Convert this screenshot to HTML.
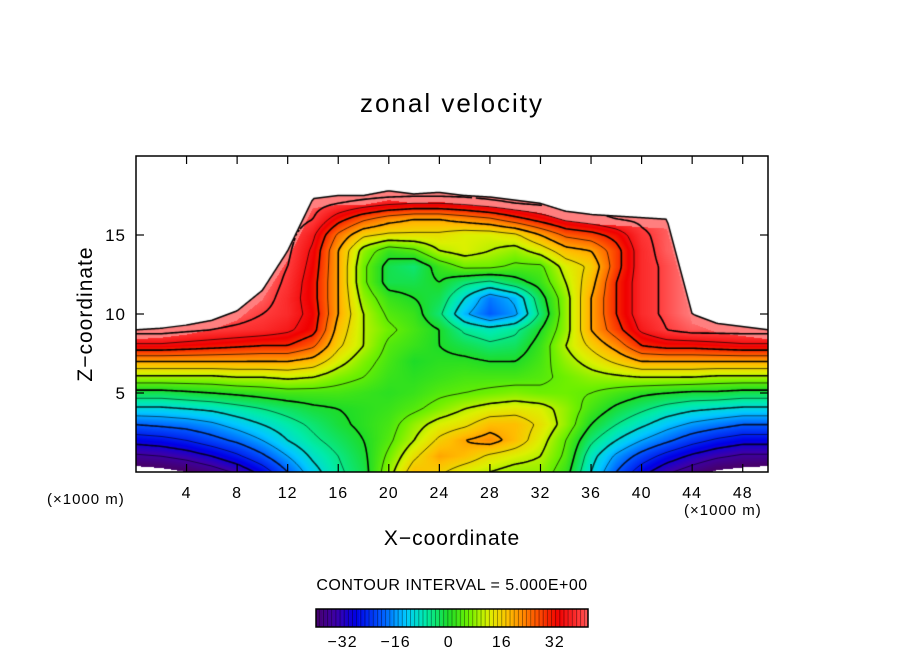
<!DOCTYPE html>
<html><head><meta charset="utf-8"><style>
body{margin:0;background:#fff;}
#wrap{position:relative;width:904px;height:654px;font-family:"Liberation Sans","DejaVu Sans",sans-serif;color:#000;}
.t{position:absolute;white-space:nowrap;}
</style></head><body>
<div id="wrap">
<div class="t" style="left:0;width:904px;text-align:center;top:88px;font-size:26px;letter-spacing:2px;">zonal velocity</div>
<div class="t" style="left:86px;top:314px;font-size:21px;letter-spacing:1px;transform:translate(-50%,-50%) rotate(-90deg);">Z−coordinate</div>
<div class="t" style="left:0;width:904px;text-align:center;top:527px;font-size:21px;letter-spacing:1px;">X−coordinate</div>
<div class="t" style="left:47px;top:491px;font-size:15px;letter-spacing:1px;">(×1000 m)</div>
<div class="t" style="left:684px;top:502px;font-size:15px;letter-spacing:1px;">(×1000 m)</div>
<div class="t" style="left:0;width:904px;text-align:center;top:577px;font-size:16px;letter-spacing:0.5px;">CONTOUR INTERVAL = 5.000E+00</div>
<canvas id="plot" width="632" height="316" style="position:absolute;left:136px;top:156px;"></canvas>
<svg id="ax" width="904" height="654" style="position:absolute;left:0;top:0;"></svg>
</div>
<script>
const xCoords=[0,2,4,6,8,10,12,14,16,18,20,22,24,26,28,30,32,34,36,38,40,42,44,46,48,50];
const zCoords=[0,1,2,3,4,5,6,7,8,9,10,11,12,13,14,15,16,17,18];
const tops=[9,9.1,9.3,9.6,10.2,11.5,14,17.3,17.5,17.5,17.8,17.6,17.7,17.5,17.4,17.2,17,16.5,16.3,16.2,16.1,16,10,9.4,9.2,9];
const field=[
[-44,-43,-41,-38,-34,-28,-20,-12,-6,-2,8,18,16,12,10,8,8,2,-10,-20,-28,-34,-38,-42,-43,-44],
[-36,-35,-33,-30,-26,-21,-15,-9,-5,-1,6,14,20,18,14,12,10,4,-8,-16,-22,-27,-31,-34,-36,-36],
[-28,-27,-25,-22,-19,-15,-10,-6,-3,0,4,10,16,20,22,18,12,5,-4,-10,-15,-19,-23,-26,-28,-28],
[-20,-19,-18,-16,-13,-10,-7,-4,-1,1,3,8,12,14,18,18,14,8,0,-5,-9,-13,-16,-18,-20,-20],
[-11,-11,-10,-9,-7,-5,-3,-1,0,1,2,4,7,10,12,13,12,8,3,-1,-4,-7,-9,-10,-11,-11],
[-2,-2,-1,0,1,2,3,3,3,2,1,2,4,5,6,7,6,6,5,3,1,0,-1,-1,-2,-2],
[9,9,9,9,10,10,11,10,7,5,2,1,2,3,3,3,4,6,8,9,10,10,10,9,9,9],
[20,20,20,20,20,20,20,18,12,7,3,0,1,1,0,0,3,8,12,16,20,20,20,20,20,20],
[34,34,33,32,31,30,30,26,16,10,4,2,0,-2,-4,-3,2,10,16,22,30,32,32,33,34,34],
[42,42,41,40,39,38,36,32,18,10,6,3,0,-6,-8,-6,0,8,20,28,36,40,42,42,42,42],
[44,44,44,43,42,40,38,33,20,10,4,2,-4,-14,-20,-16,-4,8,20,30,38,41,44,44,44,44],
[44,44,44,44,43,42,38,32,20,8,2,0,-2,-10,-18,-14,-2,8,20,30,38,41,44,44,44,44],
[44,44,44,44,44,43,39,32,20,6,-2,-2,0,-4,-6,-2,2,10,18,30,38,41,44,44,44,44],
[44,44,44,44,44,43,40,33,20,6,-2,-4,2,6,6,4,4,12,16,28,38,41,44,44,44,44],
[44,44,44,44,44,44,41,34,20,8,2,4,10,12,10,8,12,18,20,28,38,42,44,44,44,44],
[44,44,44,44,44,44,42,36,24,16,14,14,14,12,12,14,20,26,28,32,39,42,44,44,44,44],
[44,44,44,44,44,44,43,40,32,26,22,20,20,22,24,28,32,36,38,40,41,42,44,44,44,44],
[44,44,44,44,44,44,44,42,40,38,36,35,35,36,38,40,41,42,43,43,43,43,44,44,44,44],
[46,46,46,46,46,46,46,46,46,46,46,46,46,46,46,46,46,46,46,46,46,46,46,46,46,46]
];
const xTicks=[4,8,12,16,20,24,28,32,36,40,44,48];
const zTicks=[5,10,15];
const cbTicks=[-32,-16,0,16,32];
const X0=136,Y0=156,W=632,H=316,XMAX=50,ZMAX=20;
function sx(x){return X0+x/XMAX*W;}
function sz(z){return Y0+H-z/ZMAX*H;}
const stops=[[-40,[70,0,110]],[-34,[60,0,170]],[-28,[0,0,230]],[-20,[0,90,255]],[-13,[0,200,255]],[-7,[0,235,170]],[0,[30,220,40]],[6,[110,240,0]],[12,[220,240,0]],[18,[255,190,0]],[26,[255,90,0]],[33,[240,0,0]],[40,[255,60,60]],[46,[255,160,160]]];
function cmap(v){
 if(v<-41) return [255,255,255];
 if(v<=stops[0][0]) return stops[0][1];
 for(let i=1;i<stops.length;i++){if(v<=stops[i][0]){const a=stops[i-1],b=stops[i],t=(v-a[0])/(b[0]-a[0]);return a[1].map((c,k)=>Math.round(c+(b[1][k]-c)*t));}}
 return stops[stops.length-1][1];
}
function val(x,z){
 let fi=x/2, fj=z; let i=Math.min(Math.floor(fi),xCoords.length-2), j=Math.min(Math.floor(fj),zCoords.length-2);
 const tx=fi-i,tz=fj-j;
 const a=field[j][i],b=field[j][i+1],c=field[j+1][i],d=field[j+1][i+1];
 return (a*(1-tx)+b*tx)*(1-tz)+(c*(1-tx)+d*tx)*tz;
}
function topAt(x){let fi=x/2;let i=Math.min(Math.floor(fi),tops.length-2);const t=fi-i;return tops[i]*(1-t)+tops[i+1]*t;}
const cv=document.getElementById('plot'),ctx=cv.getContext('2d');
const img=ctx.createImageData(W,H);
for(let py=0;py<H;py++){for(let px=0;px<W;px++){
 const x=(px+0.5)/W*XMAX,z=(H-py-0.5)/H*ZMAX;const o=(py*W+px)*4;
 const tp=topAt(x);
 if(z>tp){img.data[o]=255;img.data[o+1]=255;img.data[o+2]=255;img.data[o+3]=255;continue;}
 let v=val(x,z); if(tp-z<0.6) v=Math.max(v,44);
 const c=cmap(v);img.data[o]=c[0];img.data[o+1]=c[1];img.data[o+2]=c[2];img.data[o+3]=255;
}}
ctx.putImageData(img,0,0);
const S=2,NX=W/S+1,NY=H/S+1;const G=[],M=[];
for(let j=0;j<NY;j++){G.push([]);M.push([]);for(let i=0;i<NX;i++){const x=i*S/W*XMAX,z=(H-j*S)/H*ZMAX;G[j].push(val(Math.min(x,50),Math.min(z,18)));M[j].push(z<=topAt(Math.min(x,50)));}}
for(let lev=-35;lev<=40;lev+=5){
 ctx.beginPath();
 for(let j=0;j<NY-1;j++)for(let i=0;i<NX-1;i++){
  if(!(M[j][i]&&M[j][i+1]&&M[j+1][i]&&M[j+1][i+1]))continue;
  const v=[G[j][i],G[j][i+1],G[j+1][i+1],G[j+1][i]];
  const p=[[i,j],[i+1,j],[i+1,j+1],[i,j+1]];const pts=[];
  for(let k=0;k<4;k++){const a=v[k],b=v[(k+1)%4];if((a<lev)!==(b<lev)){const t=(lev-a)/(b-a);const A=p[k],B=p[(k+1)%4];pts.push([(A[0]+(B[0]-A[0])*t)*S,(A[1]+(B[1]-A[1])*t)*S]);}}
  if(pts.length>=2){ctx.moveTo(pts[0][0],pts[0][1]);ctx.lineTo(pts[1][0],pts[1][1]);}
  if(pts.length===4){ctx.moveTo(pts[2][0],pts[2][1]);ctx.lineTo(pts[3][0],pts[3][1]);}
 }
 ctx.strokeStyle=lev<0?'rgba(0,0,0,0.8)':'#000';
 ctx.lineWidth=(lev%10===0)?1.6:0.7;
 ctx.stroke();
}
ctx.beginPath();
for(let px=0;px<=W;px+=2){const x=px/W*XMAX;const y=H-topAt(Math.min(x,50))/ZMAX*H;if(px===0)ctx.moveTo(px,y);else ctx.lineTo(px,y);}
ctx.strokeStyle='#000';ctx.lineWidth=1.5;ctx.stroke();
const NS='http://www.w3.org/2000/svg',svg=document.getElementById('ax');
function mk(tag,attrs,name){const e=document.createElementNS(NS,tag);for(const k in attrs)e.setAttribute(k,attrs[k]);


svg.appendChild(e);return e;}
mk('rect',{x:X0,y:Y0,width:W,height:H,fill:'none',stroke:'#000','stroke-width':1.5},'plot-frame');
xTicks.forEach(t=>{const x=sx(t);
 mk('line',{x1:x,x2:x,y1:Y0+H,y2:Y0+H-8,stroke:'#000','stroke-width':1.2},'x-tick');
 mk('line',{x1:x,x2:x,y1:Y0,y2:Y0+8,stroke:'#000','stroke-width':1.2},'x-tick-top');
 const tx=mk('text',{x:x,y:498,'text-anchor':'middle','font-size':16,'letter-spacing':1,'font-family':'Liberation Sans, sans-serif'},'x-tick-label');tx.textContent=t;});
zTicks.forEach(t=>{const y=sz(t);
 mk('line',{x1:X0,x2:X0+8,y1:y,y2:y,stroke:'#000','stroke-width':1.2},'z-tick');
 mk('line',{x1:X0+W,x2:X0+W-8,y1:y,y2:y,stroke:'#000','stroke-width':1.2},'z-tick-right');
 const tx=mk('text',{x:126,y:y+6,'text-anchor':'end','font-size':17,'letter-spacing':1,'font-family':'Liberation Sans, sans-serif'},'z-tick-label');tx.textContent=t;});
const CB0=316,CB1=588,CBV0=-40,CBV1=42;
function cbx(v){return CB0+(v-CBV0)/(CBV1-CBV0)*(CB1-CB0);}
for(let v=CBV0;v<CBV1;v+=1){mk('rect',{x:cbx(v),y:609,width:cbx(v+1)-cbx(v)+0.3,height:18,fill:'rgb('+cmap(v+0.5).join(',')+')'},'colorbar-swatch');}
for(let v=CBV0+1;v<CBV1;v+=1.25){mk('line',{x1:cbx(v),x2:cbx(v),y1:609,y2:627,stroke:'rgba(0,0,0,0.45)','stroke-width':0.8},'colorbar-stripe');}
mk('rect',{x:CB0,y:609,width:CB1-CB0,height:18,fill:'none',stroke:'#000','stroke-width':1.5},'colorbar-frame');
cbTicks.forEach(t=>{const tx=mk('text',{x:cbx(t),y:647,'text-anchor':'middle','font-size':16,'letter-spacing':1,'font-family':'Liberation Sans, sans-serif'},'colorbar-tick-label');tx.textContent=(t<0?'−'+(-t):t);});
</script>
</body></html>
